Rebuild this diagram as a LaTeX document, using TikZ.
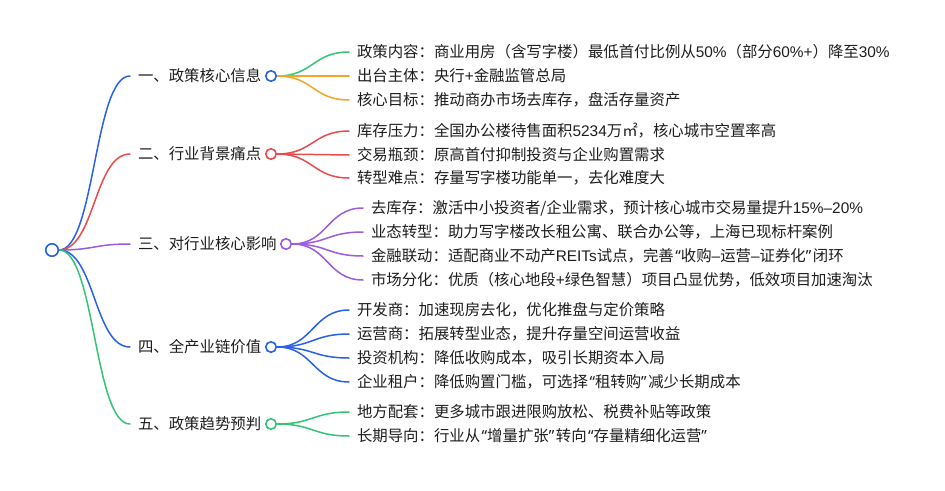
\documentclass[tikz,border=0pt]{standalone}
\usepackage{fontspec}
\setmainfont{Noto Sans CJK SC}
\newfontfamily\qfont{Noto Sans}
\newfontfamily\nfont{Liberation Sans}
\newcommand{\myoq}{\kern1.5pt{\qfont “}}
\newcommand{\mycq}{{\qfont ”}\kern1.5pt}
\newcommand{\num}[1]{{\nfont #1}}
\definecolor{cblue}{RGB}{40,98,230}
\definecolor{cred}{RGB}{232,76,76}
\definecolor{cpurple}{RGB}{155,92,222}
\definecolor{cgreen}{RGB}{52,196,118}
\definecolor{corange}{RGB}{245,164,38}
\definecolor{txt}{RGB}{30,30,30}
\pgfdeclarelayer{back}
\pgfdeclarelayer{bg}
\pgfsetlayers{back,bg,main}
\tikzset{
  lbl/.style={font=\fontsize{15.4}{18}\selectfont, text=txt, anchor=west, inner sep=0pt, outer sep=0pt, text height=13pt, text depth=1.3pt},
  dot/.style={circle, draw=#1, fill=white, line width=1.6pt, minimum size=10.5pt, inner sep=0pt},
  link/.style={line width=1.5pt, line cap=round, draw=#1},
}
\newcommand{\lnk}[3]{\draw[link=#1] (#2.east) .. controls +(36,0) and +(-36,0) .. ([xshift=-8pt]#3.west);}
\begin{document}
\begin{tikzpicture}[x=1pt,y=-1pt]
\begin{pgfonlayer}{back}
\fill[white] (0,0) rectangle (945,490);
\end{pgfonlayer}
\useasboundingbox (0,0) rectangle (945,490);
% root
\node[dot=cblue, minimum size=12.5pt] (root) at (52,250) {};
% level 1
\node[lbl] (a) at (138,76) {一、政策核心信息};
\node[dot=cblue] (ad) at (271,76) {};
\node[lbl] (b) at (138,154) {二、行业背景痛点};
\node[dot=cred] (bd) at (271,154) {};
\node[lbl] (c) at (138,244) {三、对行业核心影响};
\node[dot=cpurple] (cd) at (286,244) {};
\node[lbl] (d) at (138,347) {四、全产业链价值};
\node[dot=cblue] (dd) at (271,347) {};
\node[lbl] (e) at (138,424) {五、政策趋势预判};
\node[dot=cgreen] (ed) at (271,424) {};
% level 2 - group 1
\node[lbl] (a1) at (357,52) {政策内容：商业用房（含写字楼）最低首付比例从\num{50\%}（部分\num{60\%+}）降至\num{30\%}};
\node[lbl] (a2) at (357,76) {出台主体：央行\num{+}金融监管总局};
\node[lbl] (a3) at (357,100) {核心目标：推动商办市场去库存，盘活存量资产};
% group 2
\node[lbl] (b1) at (357,131) {库存压力：全国办公楼待售面积\num{5234}万㎡，核心城市空置率高};
\node[lbl] (b2) at (357,155) {交易瓶颈：原高首付抑制投资与企业购置需求};
\node[lbl] (b3) at (357,178) {转型难点：存量写字楼功能单一，去化难度大};
% group 3
\node[lbl] (c1) at (371,208) {去库存：激活中小投资者/企业需求，预计核心城市交易量提升\num{15\%–20\%}};
\node[lbl] (c2) at (371,232) {业态转型：助力写字楼改长租公寓、联合办公等，上海已现标杆案例};
\node[lbl] (c3) at (371,256) {金融联动：适配商业不动产\num{REITs}试点，完善\myoq 收购\num{–}运营\num{–}证券化\mycq 闭环};
\node[lbl] (c4) at (371,280) {市场分化：优质（核心地段\num{+}绿色智慧）项目凸显优势，低效项目加速淘汰};
% group 4
\node[lbl] (d1) at (357,310) {开发商：加速现房去化，优化推盘与定价策略};
\node[lbl] (d2) at (357,334) {运营商：拓展转型业态，提升存量空间运营收益};
\node[lbl] (d3) at (357,358) {投资机构：降低收购成本，吸引长期资本入局};
\node[lbl] (d4) at (357,382) {企业租户：降低购置门槛，可选择\myoq 租转购\mycq 减少长期成本};
% group 5
\node[lbl] (e1) at (357,412) {地方配套：更多城市跟进限购放松、税费补贴等政策};
\node[lbl] (e2) at (357,436) {长期导向：行业从\myoq 增量扩张\mycq 转向\myoq 存量精细化运营\mycq};
\begin{pgfonlayer}{bg}
\lnk{cblue}{root}{a}
\lnk{cred}{root}{b}
\lnk{cpurple}{root}{c}
\lnk{cblue}{root}{d}
\lnk{cgreen}{root}{e}
\lnk{cgreen}{ad}{a1}
\lnk{corange}{ad}{a2}
\lnk{corange}{ad}{a3}
\lnk{cred}{bd}{b1}
\lnk{cred}{bd}{b2}
\lnk{cred}{bd}{b3}
\lnk{cpurple}{cd}{c1}
\lnk{cpurple}{cd}{c2}
\lnk{cpurple}{cd}{c3}
\lnk{cpurple}{cd}{c4}
\lnk{cblue}{dd}{d1}
\lnk{cblue}{dd}{d2}
\lnk{cblue}{dd}{d3}
\lnk{cblue}{dd}{d4}
\lnk{cgreen}{ed}{e1}
\lnk{cgreen}{ed}{e2}
\end{pgfonlayer}
\end{tikzpicture}
\end{document}
